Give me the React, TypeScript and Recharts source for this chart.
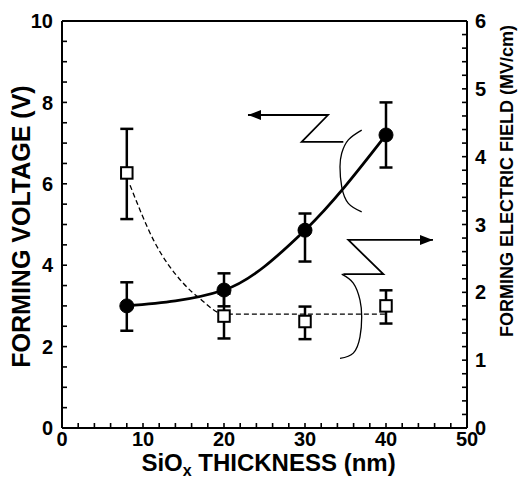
import React from 'react';
import { ComposedChart, Line, Scatter, XAxis, YAxis, ErrorBar } from 'recharts';

const thickness = [8, 20, 30, 40];
const formingVoltage = [3.0, 3.39, 4.86, 7.2];
const voltageErr = [[0.61, 0.58], [0.4, 0.41], [0.77, 0.41], [0.8, 0.8]];
const formingField = [3.76, 1.65, 1.57, 1.8];
const fieldErr = [[0.68, 0.65], [0.33, 0.33], [0.26, 0.22], [0.26, 0.23]];

// dashed guide for the field points
const fieldFitX = [8.4, 11.3, 15, 17, 20, 40];
const fieldFitY = [3.58, 2.77, 2.13, 1.91, 1.68, 1.68];

// pointer annotations, in data units of the voltage axis
const leftPointerX = [22.96, 32.84, 29.59, 34.73];
const leftPointerY = [7.69, 7.69, 7.03, 7.03];
const leftBraceX = [37.0, 35.35, 34.53, 34.32, 34.53, 35.35, 37.0];
const leftBraceY = [7.32, 7.08, 6.75, 6.42, 5.93, 5.52, 5.31];
const rightPointerX = [45.8, 35.35, 39.67, 34.73];
const rightPointerY = [4.62, 4.62, 3.78, 3.78];
const rightBraceX = [34.53, 35.96, 36.79, 37.0, 36.79, 35.96, 34.32];
const rightBraceY = [3.78, 3.56, 3.14, 2.73, 2.24, 1.84, 1.71];

const xTickLabels = [0, 10, 20, 30, 40, 50];
const voltageTickLabels = [0, 2, 4, 6, 8, 10];
const fieldTickLabels = [0, 1, 2, 3, 4, 5, 6];

const FONT = '"Liberation Sans", Arial, Helvetica, sans-serif';

// tick positions incl. minor ticks
const steps = (max: number, step: number) => {
  const out: number[] = [];
  for (let i = 0; i * step <= max + 1e-9; i++) out.push(Math.round(i * step * 100) / 100);
  return out;
};
const xTicks = steps(50, 2);
const voltageTicks = steps(10, 0.5);
const fieldTicks = steps(6, 0.2);

const zip = (xs: number[], ys: number[]) => xs.map((x, i) => ({ x, y: ys[i] }));

const voltageData = thickness.map((x, i) => ({ x, y: formingVoltage[i], err: voltageErr[i] }));
const fieldData = thickness.map((x, i) => ({ x, y: formingField[i], err: fieldErr[i] }));
const fitData = zip(fieldFitX, fieldFitY);
const leftPointer = zip(leftPointerX, leftPointerY);
const leftBrace = zip(leftBraceX, leftBraceY);
const rightPointer = zip(rightPointerX, rightPointerY);
const rightBrace = zip(rightBraceX, rightBraceY);

const tickText = { fontFamily: FONT, fontWeight: 'bold', fontSize: 20, fill: '#000' } as any;

// label only the major ticks
const BottomTick = (props: any) =>
  xTickLabels.includes(props.payload.value) ? (
    <text x={props.x} y={props.y} dy="0.71em" textAnchor="middle" {...tickText}>{props.payload.value}</text>
  ) : <g />;
const LeftTick = (props: any) =>
  voltageTickLabels.includes(props.payload.value) ? (
    <text x={props.x} y={props.y} dy="0.355em" textAnchor="end" {...tickText}>{props.payload.value}</text>
  ) : <g />;
const RightTick = (props: any) =>
  fieldTickLabels.includes(props.payload.value) ? (
    <text x={props.x} y={props.y} dy="0.355em" textAnchor="start" {...tickText}>{props.payload.value}</text>
  ) : <g />;
const NoLabel = () => <g />;

const XTitle = (props: any) => {
  const vb = props.viewBox || { x: 62, y: 428, width: 405, height: 56 };
  const cx = vb.x + vb.width / 2 + 4;
  const by = vb.y + 43;
  return (
    <text x={cx} y={by} textAnchor="middle" fontFamily={FONT} fontWeight="bold" fontSize={24} fill="#000">
      <tspan>SiO</tspan>
      <tspan fontSize={16} dy={5}>x</tspan>
      <tspan dy={-5}>{' THICKNESS (nm)'}</tspan>
    </text>
  );
};

const VoltageTitle = (props: any) => {
  const vb = props.viewBox || { x: 0, y: 21, width: 62, height: 407 };
  const cx = vb.x + 21;
  const cy = vb.y + vb.height / 2 + 2;
  return (
    <text x={cx} y={cy} dy="0.36em" transform={`rotate(-90 ${cx} ${cy})`} textAnchor="middle"
      fontFamily={FONT} fontWeight="bold" fontSize={25} fill="#000">
      FORMING VOLTAGE (V)
    </text>
  );
};

const FieldTitle = (props: any) => {
  const vb = props.viewBox || { x: 467, y: 21, width: 53, height: 407 };
  const cx = vb.x + 40;
  const cy = vb.y + 160;
  return (
    <text x={cx} y={cy} dy="0.36em" transform={`rotate(-90 ${cx} ${cy})`} textAnchor="middle"
      fontFamily={FONT} fontWeight="bold" fontSize={18} fill="#000">
      FORMING ELECTRIC FIELD (MV/cm)
    </text>
  );
};

const OpenSquare = (props: any) => {
  const { cx, cy } = props;
  return <rect x={cx - 5.75} y={cy - 5.75} width={11.5} height={11.5} fill="#fff" stroke="#000" strokeWidth={2} />;
};

const NoMark = () => <g />;

const ArrowLeft = (props: any) => {
  const { cx, cy } = props;
  return <polygon points={`${cx},${cy} ${cx + 13},${cy - 5} ${cx + 13},${cy + 5}`} fill="#000" />;
};

const ArrowRight = (props: any) => {
  const { cx, cy } = props;
  return <polygon points={`${cx},${cy} ${cx - 13},${cy - 5} ${cx - 13},${cy + 5}`} fill="#000" />;
};

const frame = { stroke: '#000', strokeWidth: 2 };
const tickStroke = { stroke: '#000', strokeWidth: 1.6 };

export default function App() {
  return (
    <div style={{ position: 'absolute', left: 0, top: 0, background: '#fff' }}>
      <ComposedChart width={520} height={484} margin={{ top: 0, right: 0, bottom: 0, left: 0 }}>
        <XAxis
          xAxisId="bottom"
          dataKey="x"
          type="number"
          domain={[0, 50]}
          ticks={xTicks}
          interval={0}
          height={56}
          tickSize={-5}
          tickMargin={9}
          tickLine={tickStroke}
          axisLine={frame}
          tick={BottomTick}
          label={XTitle}
        />
        <XAxis
          xAxisId="top"
          orientation="top"
          dataKey="x"
          type="number"
          domain={[0, 50]}
          ticks={xTicks}
          interval={0}
          height={21}
          tickSize={-5}
          tick={NoLabel}
          tickLine={tickStroke}
          axisLine={frame}
        />
        <YAxis
          yAxisId="left"
          dataKey="y"
          type="number"
          domain={[0, 10]}
          ticks={voltageTicks}
          interval={0}
          width={62}
          tickSize={-5}
          tickMargin={14}
          tickLine={tickStroke}
          axisLine={frame}
          tick={LeftTick}
          label={VoltageTitle}
        />
        <YAxis
          yAxisId="right"
          orientation="right"
          dataKey="y"
          type="number"
          domain={[0, 6]}
          ticks={fieldTicks}
          interval={0}
          width={53}
          tickSize={-5}
          tickMargin={13}
          tickLine={tickStroke}
          axisLine={frame}
          tick={RightTick}
          label={FieldTitle}
        />

        <Line
          data={fitData}
          xAxisId="bottom"
          yAxisId="right"
          dataKey="y"
          type="monotone"
          stroke="#000"
          strokeWidth={1.3}
          strokeDasharray="5 3"
          dot={false}
          activeDot={false}
          isAnimationActive={false}
        />
        <Line
          data={voltageData}
          xAxisId="bottom"
          yAxisId="left"
          dataKey="y"
          type="monotone"
          stroke="#000"
          strokeWidth={2.8}
          dot={{ r: 7, fill: '#000', stroke: '#000', strokeWidth: 1 }}
          activeDot={false}
          isAnimationActive={false}
        >
          <ErrorBar dataKey="err" direction="y" width={6.5} stroke="#000" strokeWidth={2.5} />
        </Line>
        <Scatter
          data={fieldData}
          xAxisId="bottom"
          yAxisId="right"
          dataKey="y"
          shape={OpenSquare}
          isAnimationActive={false}
        >
          <ErrorBar dataKey="err" direction="y" width={6.5} stroke="#000" strokeWidth={2.5} />
        </Scatter>

        <Scatter data={leftPointer} xAxisId="bottom" yAxisId="left" dataKey="y" shape={NoMark}
          line={{ stroke: '#000', strokeWidth: 1.8 }} lineType="joint" lineJointType="linear" isAnimationActive={false} />
        <Scatter data={leftPointer.slice(0, 1)} xAxisId="bottom" yAxisId="left" dataKey="y" shape={ArrowLeft} isAnimationActive={false} />
        <Scatter data={leftBrace} xAxisId="bottom" yAxisId="left" dataKey="y" shape={NoMark}
          line={{ stroke: '#000', strokeWidth: 1.3, fill: 'none' }} lineType="joint" lineJointType="natural" isAnimationActive={false} />
        <Scatter data={rightPointer} xAxisId="bottom" yAxisId="left" dataKey="y" shape={NoMark}
          line={{ stroke: '#000', strokeWidth: 1.8 }} lineType="joint" lineJointType="linear" isAnimationActive={false} />
        <Scatter data={rightPointer.slice(0, 1)} xAxisId="bottom" yAxisId="left" dataKey="y" shape={ArrowRight} isAnimationActive={false} />
        <Scatter data={rightBrace} xAxisId="bottom" yAxisId="left" dataKey="y" shape={NoMark}
          line={{ stroke: '#000', strokeWidth: 1.3, fill: 'none' }} lineType="joint" lineJointType="natural" isAnimationActive={false} />
      </ComposedChart>
    </div>
  );
}
